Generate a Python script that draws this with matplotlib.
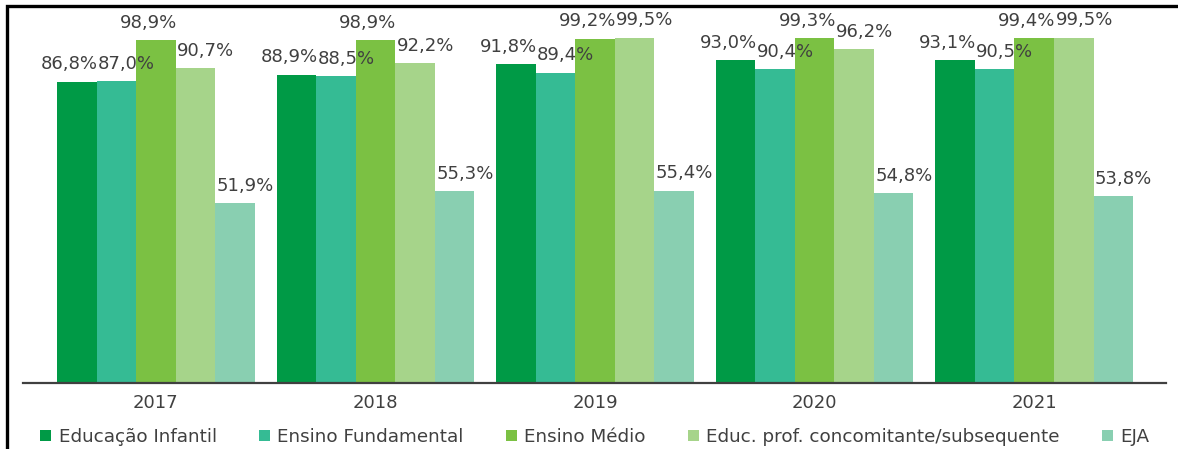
import numpy as np
import matplotlib.pyplot as plt
from matplotlib.patches import Rectangle

years = ['2017', '2018', '2019', '2020', '2021']
series = ['Educação Infantil', 'Ensino Fundamental', 'Ensino Médio',
          'Educ. prof. concomitante/subsequente', 'EJA']
educacao_infantil = [86.8, 88.9, 91.8, 93.0, 93.1]
ensino_fundamental = [87.0, 88.5, 89.4, 90.4, 90.5]
ensino_medio = [98.9, 98.9, 99.2, 99.3, 99.4]
educ_prof = [90.7, 92.2, 99.5, 96.2, 99.5]
eja = [51.9, 55.3, 55.4, 54.8, 53.8]
values = [educacao_infantil, ensino_fundamental, ensino_medio, educ_prof, eja]

colors = ['#009a46', '#35bb94', '#7bc143', '#a6d48a', '#89cfb1']
# label alignment per series (the original labels are nudged to avoid overlap)
aligns = ['right', 'left', 'right', 'left', 'left']
text_color = '#404040'

fig = plt.figure(figsize=(11.78, 4.49), dpi=100)
ax = fig.add_axes([23 / 1178, 66 / 449, 1143 / 1178, 373 / 449])

x = np.arange(len(years))
w = 0.18
for i, (name, vals) in enumerate(zip(series, values)):
    pos = x + (i - 2) * w
    ax.bar(pos, vals, width=w, color=colors[i], label=name, zorder=2)
    for p, v in zip(pos, vals):
        if aligns[i] == 'right':
            tx, dx = p + w / 2, 1
        else:
            tx, dx = p - w / 2, 1
        ax.annotate(f'{v:.1f}%'.replace('.', ','), (tx, v), xytext=(dx, 6),
                    textcoords='offset points', ha=aligns[i], va='bottom',
                    fontsize=13, color=text_color, zorder=3)

ax.set_xlim(-0.605, 4.6)
ax.set_ylim(0, 107.5)
ax.set_xticks(x)
ax.set_xticklabels(years, fontsize=13, color=text_color)
ax.tick_params(axis='x', length=0, pad=8)
ax.set_yticks([])
for s in ['top', 'right', 'left']:
    ax.spines[s].set_visible(False)
ax.spines['bottom'].set_color('#404040')
ax.spines['bottom'].set_linewidth(1.6)
ax.spines['bottom'].set_zorder(4)

fig.legend(loc='center', bbox_to_anchor=(0.505, 1 - 437 / 449), ncol=5,
           frameon=False, fontsize=13.2, handlelength=0.6, handleheight=0.6,
           handletextpad=0.4, columnspacing=2.3, labelcolor=text_color)

# outer frame of the original figure (left and top edges visible)
fig.add_artist(Rectangle((6.5 / 1178, -0.1), 1.2, 1.1 - 6.5 / 449,
                         transform=fig.transFigure, fill=False,
                         edgecolor='black', linewidth=2.4))

fig.savefig('out.png', dpi=100)
